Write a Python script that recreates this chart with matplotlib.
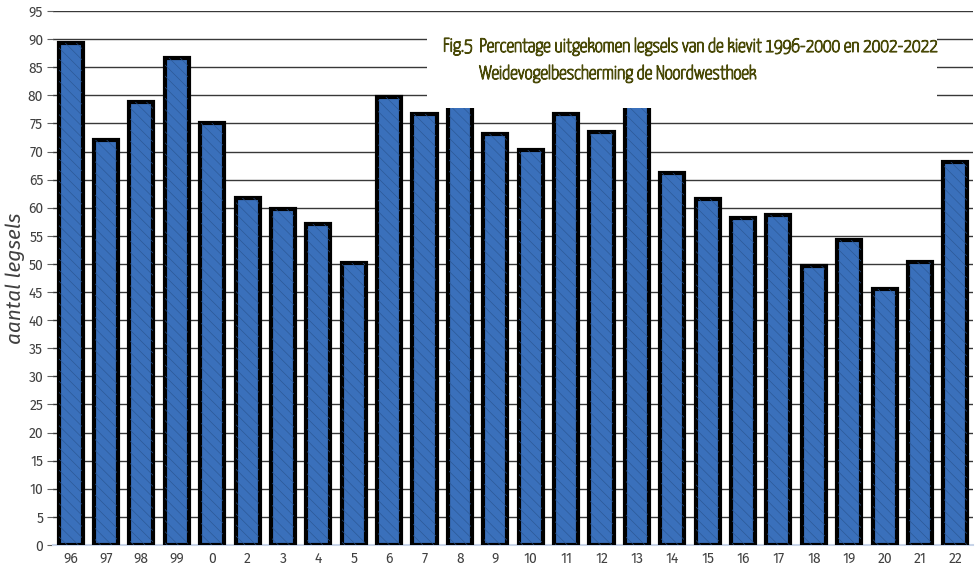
import matplotlib
matplotlib.use("Agg")
import matplotlib.pyplot as plt
import matplotlib.patheffects as pe
from matplotlib.patches import Rectangle

years = ["96", "97", "98", "99", "0", "2", "3", "4", "5", "6", "7", "8", "9",
         "10", "11", "12", "13", "14", "15", "16", "17", "18", "19", "20", "21", "22"]
# values for 8 and 13 are hidden behind the title box in the original
legsels = [89.3, 72.1, 78.8, 86.6, 75.0, 61.7, 59.8, 57.2, 50.2, 79.7, 76.6, 83.0, 73.2,
           70.2, 76.6, 73.5, 82.0, 66.2, 61.5, 58.1, 58.8, 49.6, 54.2, 45.6, 50.3, 68.1]
yticks = list(range(0, 96, 5))

fig_no = "Fig.5"
title = ("Percentage uitgekomen legsels van de kievit 1996-2000 en 2002-2022\n"
         "Weidevogelbescherming de Noordwesthoek")

plt.rcParams["font.family"] = ["Fira Sans", "DejaVu Sans"]
plt.rcParams["hatch.linewidth"] = 0.4
fig = plt.figure(figsize=(9.79, 5.68), dpi=100)
ax = fig.add_axes([0.054, 0.0405, 0.94, 0.94])

x = range(len(years))
ax.bar(x, legsels, width=0.68, color="#3a70bb", edgecolor="black", linewidth=3, zorder=3)
ax.bar(x, legsels, width=0.64, color="none", edgecolor="#2a5590", hatch="\\\\\\",
       linewidth=0, zorder=3.5)

ax.set_xlim(-0.5, 25.5)
ax.set_ylim(0, 95)
ax.set_yticks(yticks)
ax.set_xticks(list(x))
ax.set_xticklabels(years)
ax.grid(axis="y", color="#383838", lw=1, zorder=0)
for s in ["top", "right", "left"]:
    ax.spines[s].set_visible(False)
ax.spines["bottom"].set_color("#c8d4e8")
ax.spines["bottom"].set_linewidth(1.5)
ax.tick_params(axis="x", length=0, pad=5, labelsize=10, labelcolor="#404040")
ax.tick_params(axis="y", length=4, width=0.8, color="#606060", pad=3,
               labelsize=10, labelcolor="#404040")
ax.set_ylabel("aantal legsels", fontsize=15, style="italic", color="#404040", labelpad=2)

# white title box that hides part of the chart
ax.add_patch(Rectangle((0.4065, 77.7), 0.5545, 15.5, transform=ax.get_yaxis_transform(),
                       facecolor="white", edgecolor="none", zorder=5))
tkw = dict(transform=ax.get_yaxis_transform(), ha="left", va="top", fontsize=13.8,
           color="#4a4a08", linespacing=1.6, zorder=6,
           family=["Yanone Kaffeesatz", "DejaVu Sans"],
           path_effects=[pe.withStroke(linewidth=0.9, foreground="#4a4a08")])
ax.text(0.424, 90.3, fig_no, **tkw)
ax.text(0.4635, 90.3, title, **tkw)

fig.savefig("out.png", dpi=100)
